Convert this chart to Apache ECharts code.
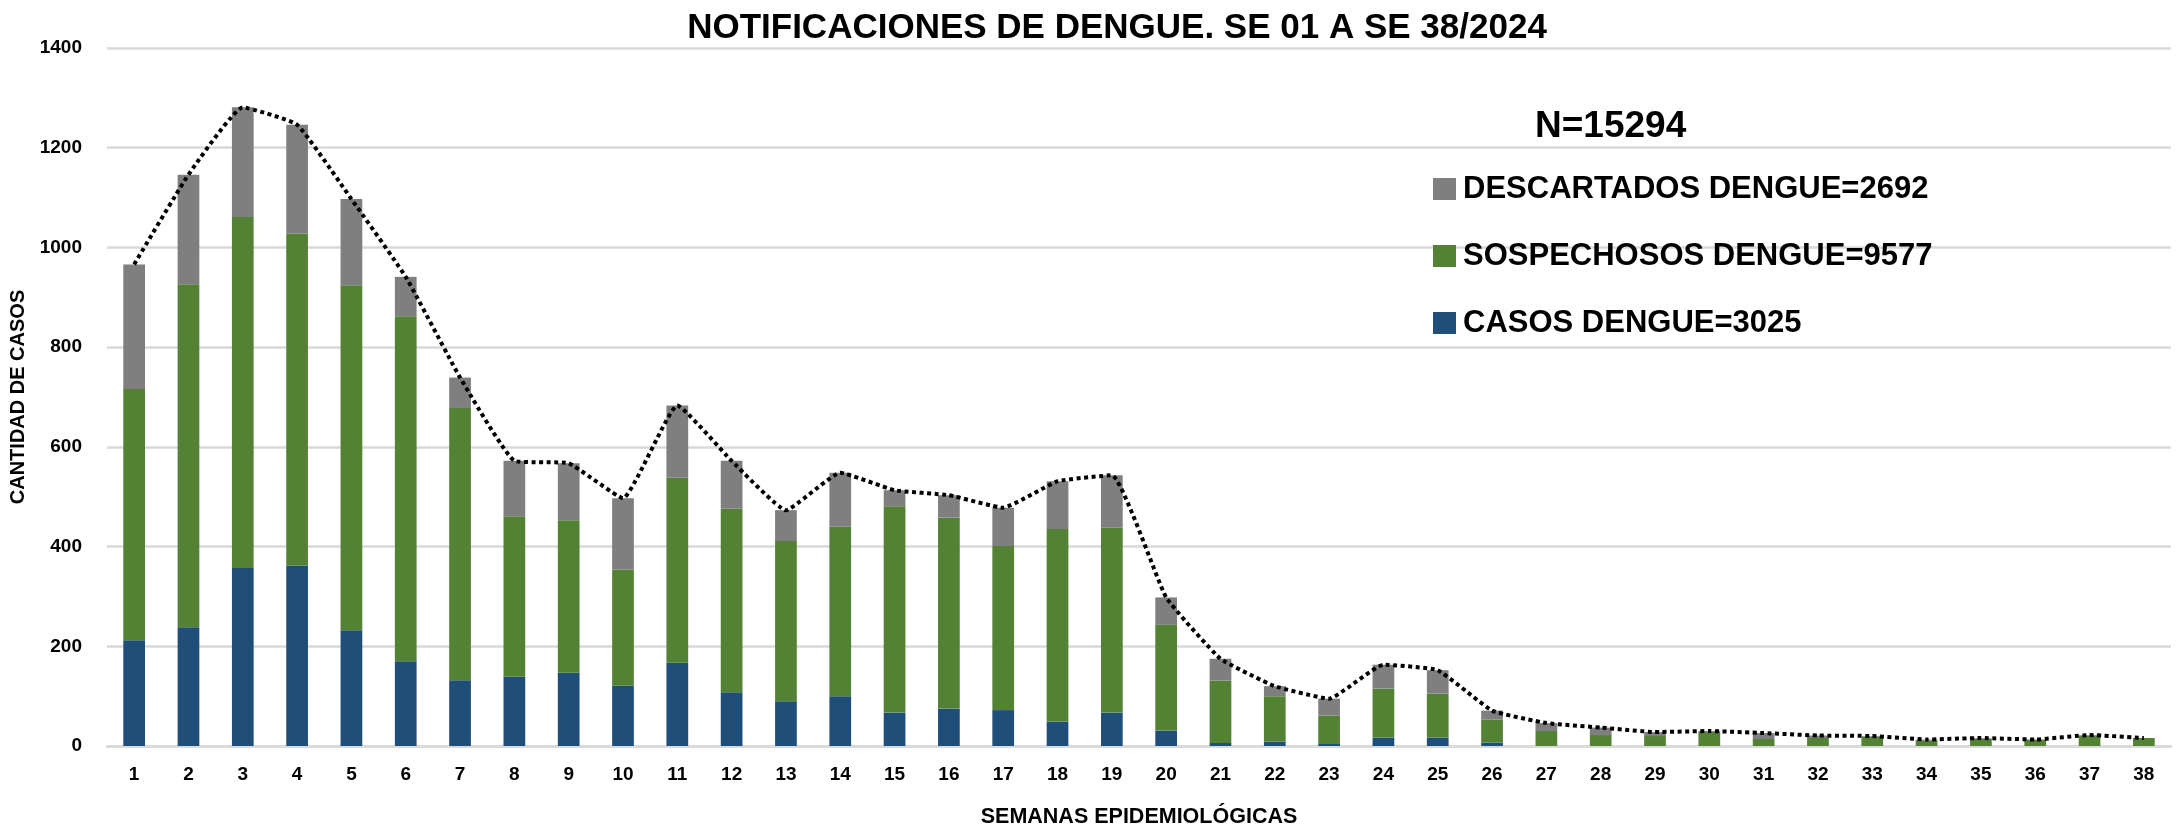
<!DOCTYPE html>
<html>
<head>
<meta charset="utf-8">
<script src="https://cdn.jsdelivr.net/npm/echarts@6/dist/echarts.min.js"></script>
<style>
html,body{margin:0;padding:0;background:#fff;}
#chart{width:2178px;height:825px;}
</style>
</head>
<body>
<div id="chart"></div>
<script>
const weeks = ['1','2','3','4','5','6','7','8','9','10','11','12','13','14','15','16','17','18','19','20','21','22','23','24','25','26','27','28','29','30','31','32','33','34','35','36','37','38'];
const casos = [212,238,357,362,232,170,132,139,147,121,167,108,90,100,67,75,72,49,67,31,6,9,4,17,17,7,0,0,0,0,0,0,0,0,0,0,0,0];
const sospechosos = [504,688,704,666,692,692,546,322,306,233,371,368,321,340,414,383,329,386,371,212,125,91,57,98,88,46,30,22,20,28,14,16,19,11,15,12,21,16];
const descartados = [250,220,220,218,173,79,61,111,114,143,145,96,62,108,32,45,77,96,105,55,44,20,34,48,47,18,16,15,8,2,12,5,1,2,1,1,1,0];
const yTicks = { min: 0, max: 1400, interval: 200 };
const titleText = 'NOTIFICACIONES DE DENGUE. SE 01 A SE 38/2024';
const totalText = 'N=15294';
const legendNames = ['DESCARTADOS DENGUE=2692', 'SOSPECHOSOS DENGUE=9577', 'CASOS DENGUE=3025'];

const totals = weeks.map((_, i) => casos[i] + sospechosos[i] + descartados[i]);

const chart = echarts.init(document.getElementById('chart'), null, { renderer: 'canvas' });
const regular = "'Liberation Sans', Arial, sans-serif";

chart.setOption({
  backgroundColor: '#ffffff',
  animation: false,
  title: {
    text: titleText,
    left: 1112, textAlign: 'center', top: 6,
    textStyle: { fontFamily: regular, fontWeight: 'bold', fontSize: 35, color: '#000' }
  },
  graphic: [{
    type: 'text', left: 1535, top: 108,
    style: { text: totalText, fontFamily: regular, fontWeight: 'bold', fontSize: 37, fill: '#000' }
  }],
  legend: {
    orient: 'vertical', left: 1433, top: 171, padding: 0,
    data: legendNames,
    itemWidth: 23, itemHeight: 22, itemGap: 31,
    icon: 'rect',
    textStyle: { fontFamily: regular, fontWeight: 'bold', fontSize: 31, color: '#000', lineHeight: 36, padding: [0,0,0,2] }
  },
  grid: { left: 107, right: 7, top: 48, bottom: 79, containLabel: false, outerBoundsMode: 'none' },
  xAxis: {
    type: 'category', data: weeks,
    name: 'SEMANAS EPIDEMIOLÓGICAS', nameLocation: 'middle', nameGap: 60,
    nameTextStyle: { fontFamily: regular, fontWeight: 'bold', fontSize: 21.5, color: '#000' },
    axisLine: { show: true, lineStyle: { color: '#d9d9d9', width: 2.5 } },
    axisTick: { show: false },
    axisLabel: { fontFamily: regular, fontWeight: 'bold', fontSize: 19, color: '#000', margin: 19 }
  },
  yAxis: {
    type: 'value', min: yTicks.min, max: yTicks.max, interval: yTicks.interval,
    name: 'CANTIDAD DE CASOS', nameLocation: 'middle', nameGap: 70,
    nameTextStyle: { fontFamily: regular, fontWeight: 'bold', fontSize: 20, color: '#000' },
    axisLine: { show: false }, axisTick: { show: false },
    splitLine: { lineStyle: { color: '#d9d9d9', width: 2.5 } },
    axisLabel: { fontFamily: regular, fontWeight: 'bold', fontSize: 19, color: '#000', margin: 25,
      formatter: v => String(v) }
  },
  series: [
    { name: legendNames[2], type: 'bar', stack: 'a', data: casos, barWidth: '40%', itemStyle: { color: '#1f4e79' } },
    { name: legendNames[1], type: 'bar', stack: 'a', data: sospechosos, barWidth: '40%', itemStyle: { color: '#548235' } },
    { name: legendNames[0], type: 'bar', stack: 'a', data: descartados, barWidth: '40%', itemStyle: { color: '#7f7f7f' } },
    { name: 'TOTAL', type: 'line', data: totals, smooth: 0.12, symbol: 'none', z: 5,
      lineStyle: { color: '#000', width: 4, type: [4, 3.5], cap: 'butt' } }
  ]
});
</script>
</body>
</html>
